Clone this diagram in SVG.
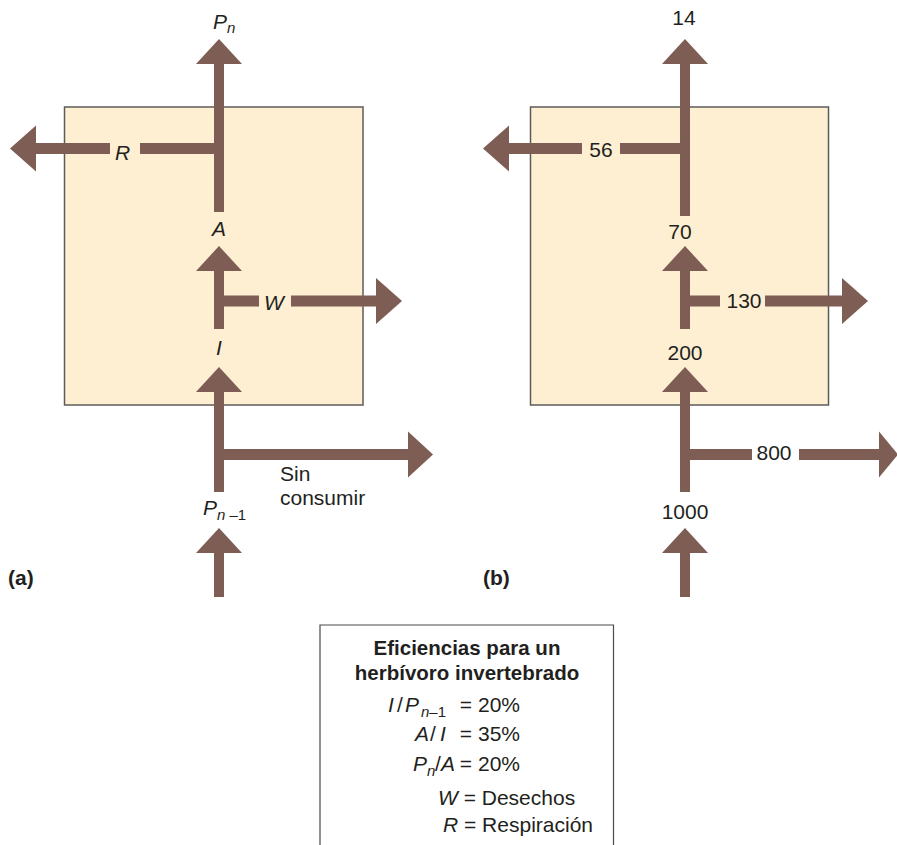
<svg xmlns="http://www.w3.org/2000/svg" width="897" height="845" viewBox="0 0 897 845">
  <style>
    .box { fill: #feefd3; stroke: #5d5b5a; stroke-width: 1.5; }
    .flow { fill: #7e5d55; }
    .lbl { font-family: "Liberation Sans", Arial, sans-serif; font-size: 21px; fill: #231f20; }
    .it { font-style: italic; }
    .sub { font-size: 15px; }
    .bold { font-weight: bold; }
    .title { font-size: 20.5px; font-weight: bold; }
    .legend { fill: #ffffff; stroke: #4a4a4a; stroke-width: 1.2; }
  </style>

  <!-- panel (a): symbolic flows -->
  <g id="compartment-a">
    <rect class="box" x="64.5" y="107" width="298.5" height="298"/>
  </g>
  <g id="connectors-a">
    <!-- Pn out the top -->
    <polygon class="flow" points="219,39 196,64 242,64"/>
    <rect class="flow" x="214" y="64" width="10" height="148"/>
    <!-- R out to the left -->
    <rect class="flow" x="140" y="143" width="79" height="11"/>
    <rect class="flow" x="36" y="143" width="74" height="11"/>
    <polygon class="flow" points="10,148.5 36,125.5 36,171.5"/>
    <!-- I to A -->
    <polygon class="flow" points="219,246 196,271 242,271"/>
    <rect class="flow" x="214" y="271" width="10" height="58"/>
    <!-- W out to the right -->
    <rect class="flow" x="219" y="295.5" width="40" height="11"/>
    <rect class="flow" x="291" y="295.5" width="86" height="11"/>
    <polygon class="flow" points="376,278 376,324 402,301"/>
    <!-- Pn-1 into the compartment -->
    <polygon class="flow" points="219,367 196,392 242,392"/>
    <rect class="flow" x="214" y="392" width="10" height="100"/>
    <!-- unconsumed -->
    <rect class="flow" x="219" y="449" width="190" height="11"/>
    <polygon class="flow" points="408,431.5 408,477.5 433,454.5"/>
    <!-- incoming -->
    <polygon class="flow" points="219,528 196,553 242,553"/>
    <rect class="flow" x="214" y="553" width="10" height="44"/>
  </g>
  <g id="labels-a" class="lbl">
    <text x="213" y="29"><tspan class="it">P</tspan><tspan class="it sub" dy="4">n</tspan></text>
    <text x="115" y="160" class="it">R</text>
    <text x="219" y="236" text-anchor="middle" class="it">A</text>
    <text x="264" y="310" class="it">W</text>
    <text x="219" y="355" text-anchor="middle" class="it">I</text>
    <text x="280" y="481">Sin</text>
    <text x="280" y="505">consumir</text>
    <text x="203" y="515"><tspan class="it">P</tspan><tspan class="sub" dy="5"><tspan class="it">n</tspan> –1</tspan></text>
    <text x="8" y="585" class="bold">(a)</text>
  </g>

  <!-- panel (b): numeric flows -->
  <g id="compartment-b">
    <rect class="box" x="530.5" y="107" width="298" height="298"/>
  </g>
  <g id="connectors-b">
    <polygon class="flow" points="685,39 662,64 708,64"/>
    <rect class="flow" x="680" y="64" width="10" height="152"/>
    <rect class="flow" x="620" y="143" width="65" height="11"/>
    <rect class="flow" x="509" y="143" width="73" height="11"/>
    <polygon class="flow" points="483,148.5 509,125.5 509,171.5"/>
    <polygon class="flow" points="685,246 662,271 708,271"/>
    <rect class="flow" x="680" y="271" width="10" height="58"/>
    <rect class="flow" x="685" y="295.5" width="35" height="11"/>
    <rect class="flow" x="765" y="295.5" width="78" height="11"/>
    <polygon class="flow" points="842,278 842,324 868,301"/>
    <polygon class="flow" points="685,367 662,392 708,392"/>
    <rect class="flow" x="680" y="392" width="10" height="100"/>
    <rect class="flow" x="685" y="449" width="67" height="11"/>
    <rect class="flow" x="799" y="449" width="81" height="11"/>
    <polygon class="flow" points="879,431.5 879,477.5 898,454.5"/>
    <polygon class="flow" points="685,528 662,553 708,553"/>
    <rect class="flow" x="680" y="553" width="10" height="44"/>
  </g>
  <g id="labels-b" class="lbl">
    <text x="684" y="25" text-anchor="middle">14</text>
    <text x="601" y="157" text-anchor="middle">56</text>
    <text x="680" y="239" text-anchor="middle">70</text>
    <text x="744" y="308" text-anchor="middle">130</text>
    <text x="685" y="360" text-anchor="middle">200</text>
    <text x="774" y="460" text-anchor="middle">800</text>
    <text x="685" y="519" text-anchor="middle">1000</text>
    <text x="483" y="585" class="bold">(b)</text>
  </g>

  <!-- efficiency legend -->
  <g id="legend">
    <path class="legend" d="M320,845 V625 H613.5 V845"/>
    <g class="lbl">
      <text x="467" y="655" text-anchor="middle" class="title">Eficiencias para un</text>
      <text x="467" y="680" text-anchor="middle" class="title">herbívoro invertebrado</text>
      <!-- I/Pn-1 = 20% -->
      <text y="712"><tspan x="388" class="it">I</tspan><tspan x="397">/</tspan><tspan x="405" class="it">P</tspan><tspan x="421" class="sub" dy="5"><tspan class="it">n</tspan>–1</tspan></text>
      <text x="520" y="712" text-anchor="end">= 20%</text>
      <!-- A/I = 35% -->
      <text y="741"><tspan x="415" class="it">A</tspan><tspan x="430">/</tspan><tspan x="440" class="it">I</tspan></text>
      <text x="520" y="741" text-anchor="end">= 35%</text>
      <!-- Pn/A = 20% -->
      <text y="771"><tspan x="413" class="it">P</tspan><tspan x="427" class="it sub" dy="5">n</tspan><tspan x="435" dy="-5">/</tspan><tspan x="441" class="it">A</tspan></text>
      <text x="520" y="771" text-anchor="end">= 20%</text>
      <text x="438" y="805"><tspan class="it">W</tspan> = Desechos</text>
      <text x="443" y="832"><tspan class="it">R</tspan> = Respiración</text>
    </g>
  </g>
</svg>
